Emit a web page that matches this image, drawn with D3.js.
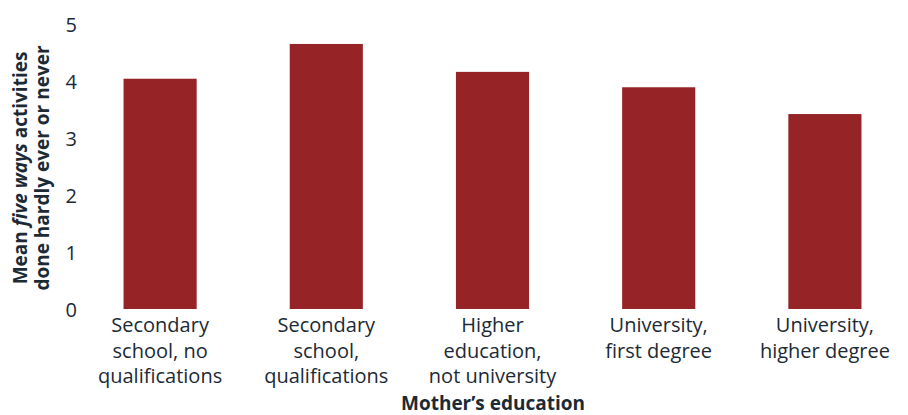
<!DOCTYPE html>
<html><head><meta charset="utf-8">
<script src="https://cdn.jsdelivr.net/npm/d3@7"></script>
<style>body{margin:0;background:#fff;} text{font-family:"Open Sans",sans-serif;}</style>
</head><body><svg id="c" width="908" height="415"></svg>
<script>
const categories = [
  ["Secondary","school, no","qualifications"],
  ["Secondary","school,","qualifications"],
  ["Higher","education,","not university"],
  ["University,","first degree"],
  ["University,","higher degree"]
];
const values = [4.04, 4.65, 4.16, 3.89, 3.42];
const yTicks = [0,1,2,3,4,5];
const textColor = "#1b2a35", barColor = "#962325";

const svg = d3.select("#c");
const x = d3.scaleBand().domain(d3.range(categories.length)).range([77, 908]).paddingInner(0.56).paddingOuter(0.28);
const y = d3.scaleLinear().domain([0,5]).range([309, 24]);

svg.selectAll("rect.bar").data(values).join("rect").attr("class","bar")
  .attr("x",(d,i)=>x(i)).attr("width",x.bandwidth())
  .attr("y",d=>y(d)).attr("height",d=>y(0)-y(d)).attr("fill",barColor);

const ya = svg.append("g").attr("transform","translate(77,0)")
  .call(d3.axisLeft(y).tickValues(yTicks).tickSize(0).tickPadding(0).tickFormat(d3.format("d")));
ya.select(".domain").remove();
ya.selectAll("text").attr("font-size",20).attr("fill",textColor).attr("font-family","Open Sans, sans-serif").attr("dy","0.35em");

const xa = svg.append("g").attr("transform","translate(0,309)")
  .call(d3.axisBottom(x).tickSize(0).tickFormat(""));
xa.select(".domain").remove();
xa.selectAll(".tick").each(function(d){
  const t = d3.select(this).append("text").attr("fill",textColor).attr("font-size",20).attr("text-anchor","middle");
  categories[d].forEach((s,j)=>t.append("tspan").attr("x",0).attr("y",23+j*25.5).text(s));
});

svg.append("text").attr("x",493).attr("y",410).attr("text-anchor","middle")
  .attr("font-weight","bold").attr("font-size",19).attr("fill",textColor).text("Mother’s education");

const yt = svg.append("text").attr("transform","translate(0,168) rotate(-90)")
  .attr("text-anchor","middle").attr("font-weight","bold").attr("font-size",19).attr("fill",textColor);
const l1 = yt.append("tspan").attr("x",0).attr("y",27);
l1.append("tspan").text("Mean ");
l1.append("tspan").attr("font-style","italic").text("five ways");
l1.append("tspan").text(" activities");
yt.append("tspan").attr("x",0).attr("y",49).text("done hardly ever or never");
</script></body></html>
